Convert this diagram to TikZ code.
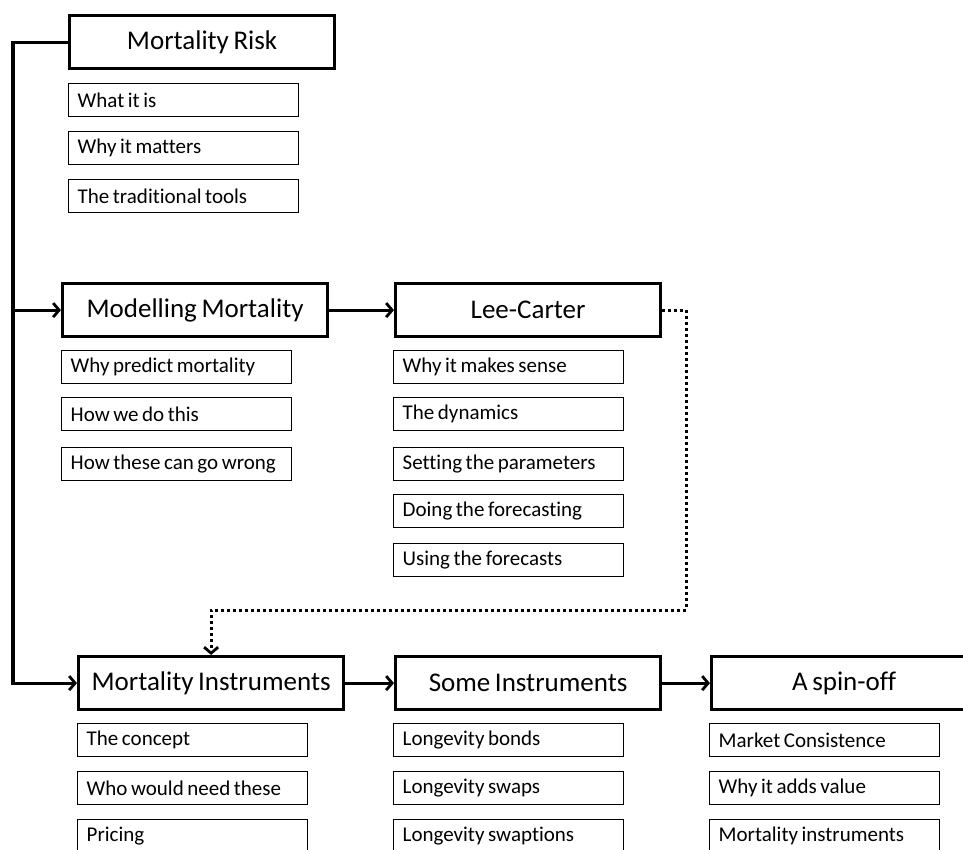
\documentclass[tikz,border=0pt]{standalone}
\usepackage{fontspec}
\setmainfont{Carlito}[Ligatures=NoCommon]
\usetikzlibrary{arrows.meta}
\newcommand{\tightsp}{\spaceskip=0.17em plus 0.05em minus 0.02em\relax}
\newcommand{\subtxt}[1]{\makebox[212pt][l]{#1}}
\tikzset{
  hdr/.style={draw, line width=3.2pt, minimum width=265pt, minimum height=53pt, inner sep=0pt,
    anchor=north west, font=\fontsize{27}{31}\selectfont\tightsp},
  sub/.style={draw, line width=1.4pt, minimum width=230pt, minimum height=33pt, inner ysep=0pt,
    inner xsep=9pt, anchor=north west, font=\fontsize{21}{25}\selectfont\tightsp},
  conn/.style={line width=3.2pt},
  tip/.style={-{Straight Barb[length=6pt,width=14pt,line width=2.8pt]}},
  dots/.style={line width=3pt, dash pattern=on 3pt off 3pt}
}
\begin{document}
\begin{tikzpicture}[x=1pt,y=-1pt]
\clip (0,0) rectangle (963,849);
\fill[white] (0,0) rectangle (963,849);
% headers
\node[hdr] (mr) at (68,14) {Mortality Risk};
\node[hdr] (mm) at (61,282) {Modelling Mortality};
\node[hdr] (lc) at (394,282) {Lee-Carter};
\node[hdr] (mi) at (77,655) {Mortality Instruments};
\node[hdr] (si) at (394,655) {Some Instruments};
\node[hdr] (so) at (710,655) {A spin-off};
% sub items
\node[sub] (mr1) at (68,83) {\subtxt{What it is}};
\node[sub] (mr2) at (68,131) {\subtxt{Why it matters}};
\node[sub] (mr3) at (68,179) {\subtxt{The traditional tools}};
\node[sub] (mm1) at (61,350) {\subtxt{Why predict mortality}};
\node[sub] (mm2) at (61,397) {\subtxt{How we do this}};
\node[sub] (mm3) at (61,447) {\subtxt{How these can go wrong}};
\node[sub] (lc1) at (393,350) {\subtxt{Why it makes sense}};
\node[sub] (lc2) at (393,397) {\subtxt{The dynamics}};
\node[sub] (lc3) at (393,447) {\subtxt{Setting the parameters}};
\node[sub] (lc4) at (393,494) {\subtxt{Doing the forecasting}};
\node[sub] (lc5) at (393,543) {\subtxt{Using the forecasts}};
\node[sub] (mi1) at (77,723) {\subtxt{The concept}};
\node[sub] (mi2) at (77,771) {\subtxt{Who would need these}};
\node[sub] (mi3) at (77,819) {\subtxt{Pricing}};
\node[sub] (si1) at (393,723) {\subtxt{Longevity bonds}};
\node[sub] (si2) at (393,771) {\subtxt{Longevity swaps}};
\node[sub] (si3) at (393,819) {\subtxt{Longevity swaptions}};
\node[sub] (so1) at (709,723) {\subtxt{Market Consistence}};
\node[sub] (so2) at (709,771) {\subtxt{Why it adds value}};
\node[sub] (so3) at (709,819) {\subtxt{Mortality instruments}};
% connectors
\coordinate (spine) at (13,0);
\coordinate (dc) at (686,610);
\draw[conn,tip] (mr.west) -| (spine |- mi.west) -- (mi.west);
\draw[conn,tip] (spine |- mm.west) -- (mm.west);
\draw[conn,tip] (mm.east) -- (lc.east -| lc.west);
\draw[conn,tip] (mi.east) -- (si.west);
\draw[conn,tip] (si.east) -- (so.west);
\draw[dots,tip] (lc.east) -| (dc) -| (mi.north);
\end{tikzpicture}
\end{document}
